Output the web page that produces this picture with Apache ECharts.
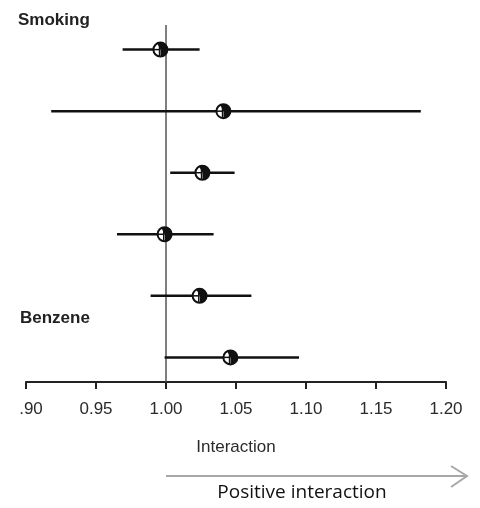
<!DOCTYPE html>
<html>
<head>
<meta charset="utf-8">
<script src="https://cdn.jsdelivr.net/npm/echarts@6/dist/echarts.min.js"></script>
<style>html,body{margin:0;padding:0;background:#fff;}#c{width:480px;height:508px;}</style>
</head>
<body>
<div id="c"></div>
<script>
// Rows from top to bottom
const rows = [0, 1, 2, 3, 4, 5];
const estimates = [0.996, 1.041, 1.026, 0.999, 1.024, 1.046];
const lowerCI   = [0.969, 0.918, 1.003, 0.965, 0.989, 0.999];
const upperCI   = [1.024, 1.182, 1.049, 1.034, 1.061, 1.095];
const xTicks = [0.90, 0.95, 1.00, 1.05, 1.10, 1.15, 1.20];
const groupLabels = ['Smoking', 'Benzene'];
const xName = 'Interaction';
const arrowLabel = 'Positive interaction';
const refValue = 1.00;

const data = rows.map((r, i) => [estimates[i], r, lowerCI[i], upperCI[i]]);

const chart = echarts.init(document.getElementById('c'), null, {renderer: 'canvas'});
chart.setOption({
  animation: false,
  backgroundColor: '#fff',
  grid: {left: 26, right: 34, top: 25, bottom: 126},
  xAxis: {
    type: 'value', min: xTicks[0], max: xTicks[xTicks.length - 1], interval: 0.05,
    axisLine: {show: true, onZero: false, lineStyle: {color: '#222', width: 2}},
    axisTick: {show: true, length: 7, lineStyle: {color: '#222', width: 2}},
    axisLabel: {color: '#2a2a2a', fontFamily: 'Arial, Liberation Sans', fontSize: 17, margin: 19,
      formatter: function (v) {
        const s = v.toFixed(2);
        return Math.abs(v - xTicks[0]) < 1e-9 ? '{a|' + s.slice(1) + '}' : s;
      },
      rich: {a: {fontFamily: 'Arial, Liberation Sans', fontSize: 17, color: '#2a2a2a', padding: [0, 0, 0, 10]}}
    },
    splitLine: {show: false},
    name: xName, nameLocation: 'middle', nameGap: 57,
    nameTextStyle: {color: '#2a2a2a', fontFamily: 'Arial, Liberation Sans', fontSize: 17}
  },
  yAxis: {type: 'value', inverse: true, min: -0.4, max: 5.4, show: false},
  series: [
    {
      type: 'line', data: [[refValue, -0.4], [refValue, 5.4]], symbol: 'none',
      lineStyle: {color: '#555', width: 1.5}, silent: true, z: 1
    },
    {
      type: 'custom', z: 3,
      data: data,
      encode: {x: 0, y: 1},
      renderItem: function (params, api) {
        const est = api.value(0), row = api.value(1), lo = api.value(2), hi = api.value(3);
        const p = api.coord([est, row]);
        const pl = api.coord([lo, row]);
        const ph = api.coord([hi, row]);
        const r = 7;
        return {
          type: 'group',
          children: [
            {type: 'line', shape: {x1: pl[0], y1: pl[1], x2: ph[0], y2: ph[1]},
             style: {stroke: '#111', lineWidth: 2.5}},
            {type: 'circle', shape: {cx: p[0], cy: p[1], r: r},
             style: {fill: '#fff', stroke: '#111', lineWidth: 2}},
            {type: 'sector', shape: {cx: p[0], cy: p[1], r0: 0, r: r, startAngle: -Math.PI * 0.65, endAngle: Math.PI * 0.5, clockwise: true},
             style: {fill: '#111'}},
            {type: 'line', shape: {x1: p[0] - r, y1: p[1], x2: p[0], y2: p[1]},
             style: {stroke: '#111', lineWidth: 1.5}},
            {type: 'line', shape: {x1: p[0] - 1, y1: p[1] - r, x2: p[0] - 1, y2: p[1] + r},
             style: {stroke: '#111', lineWidth: 1.2}}
          ]
        };
      }
    }
  ],
  graphic: [
    {type: 'text', left: 18, top: 12, style: {text: groupLabels[0], font: 'bold 17px Arial, Liberation Sans', fill: '#222'}},
    {type: 'text', left: 20, top: 310, style: {text: groupLabels[1], font: 'bold 17px Arial, Liberation Sans', fill: '#222'}},
    {type: 'line', shape: {x1: 166, y1: 476, x2: 467, y2: 476}, style: {stroke: '#a8a8a8', lineWidth: 2}},
    {type: 'polyline', shape: {points: [[451, 466], [467, 476], [451, 487]]}, style: {stroke: '#a8a8a8', lineWidth: 2, fill: null}},
    {type: 'text', x: 302, y: 493, style: {text: arrowLabel, font: '500 19px "Open Sans", "Noto Sans", sans-serif', fill: '#111', align: 'center', verticalAlign: 'middle'}}
  ]
});
</script>
</body>
</html>
